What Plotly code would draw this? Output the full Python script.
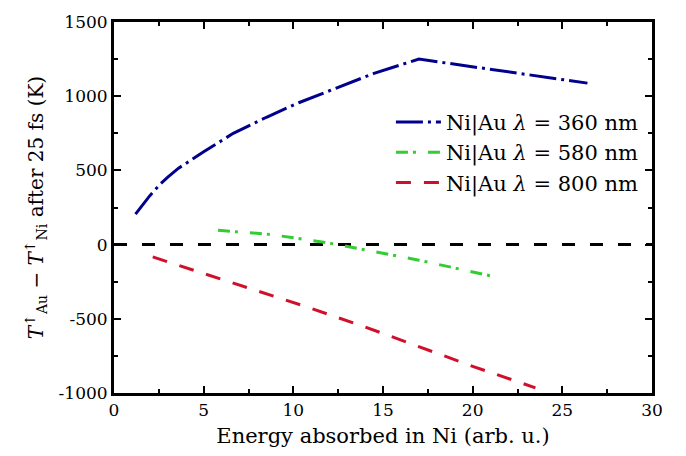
import plotly.graph_objects as go

# Data
x360 = [1.2, 1.6, 2.0, 2.6, 3.0, 3.6, 4.4, 5.0, 6.65, 8.5, 10.3, 12.4, 14.5, 17.0, 21.5, 26.4]
y360 = [205, 265, 330, 410, 455, 515, 580, 625, 750, 858, 956, 1055, 1154, 1250, 1170, 1088]

x580 = [5.8, 8.5, 10.1, 11.9, 14.0, 17.0, 21.1]
y580 = [96, 71, 45, 12, -35, -105, -213]

x800 = [2.16, 5.0, 8.0, 11.0, 14.0, 17.0, 20.0, 23.5]
y800 = [-83, -195, -315, -430, -555, -690, -820, -965]

x_zero = [0, 30]
y_zero = [0, 0]

y_tickvals = [-1000, -500, 0, 500, 1000, 1500]
y_ticktext = ["-1000", "-500", "0", "500", "1000", "1500"]

labels = ["Ni|Au <i>λ</i> = 360 nm", "Ni|Au <i>λ</i> = 580 nm", "Ni|Au <i>λ</i> = 800 nm"]

FONT = "DejaVu Serif"

fig = go.Figure()
fig.add_trace(go.Scatter(x=x_zero, y=y_zero, mode="lines", showlegend=False,
                         line=dict(color="black", width=3, dash="13px,15px")))
fig.add_trace(go.Scatter(x=x360, y=y360, mode="lines", name=labels[0],
                         line=dict(color="#00008c", width=3, dash="27px,5px,3px,5px")))
fig.add_trace(go.Scatter(x=x580, y=y580, mode="lines", name=labels[1],
                         line=dict(color="#33cc33", width=3, dash="12px,5px,3px,12px")))
fig.add_trace(go.Scatter(x=x800, y=y800, mode="lines", name=labels[2],
                         line=dict(color="#d0102a", width=3, dash="15px,13px")))

axis_common = dict(showline=True, linewidth=3, linecolor="black", mirror="ticks",
                   ticks="inside", ticklen=7, tickwidth=2, tickcolor="black",
                   showgrid=False, zeroline=False,
                   tickfont=dict(family=FONT, size=17, color="black"))

fig.update_layout(
    width=686, height=456,
    margin=dict(l=114, r=34, t=14, b=63),
    plot_bgcolor="white", paper_bgcolor="white",
    font=dict(family=FONT, size=18, color="black"),
    xaxis=dict(range=[0, 30], dtick=5,
               minor=dict(dtick=2.5, ticks="inside", ticklen=4, tickwidth=2, tickcolor="black"),
               title=dict(text="Energy absorbed in Ni (arb. u.)", font=dict(family=FONT, size=21), standoff=9),
               **axis_common),
    yaxis=dict(range=[-1000, 1500], tickvals=y_tickvals, ticktext=y_ticktext,
               minor=dict(dtick=250, ticks="inside", ticklen=4, tickwidth=2, tickcolor="black"),
               title=dict(text="<i>T</i><sup>↑</sup><sub>Au</sub> − <i>T</i><sup>↑</sup><sub>Ni</sub> after 25 fs (K)",
                          font=dict(family=FONT, size=20), standoff=10),
               **axis_common),
    legend=dict(x=0.985, y=0.785, xanchor="right", yanchor="top",
                bgcolor="rgba(0,0,0,0)", font=dict(family=FONT, size=21),
                tracegroupgap=0, itemwidth=45),
)

fig.write_html("out.html")
